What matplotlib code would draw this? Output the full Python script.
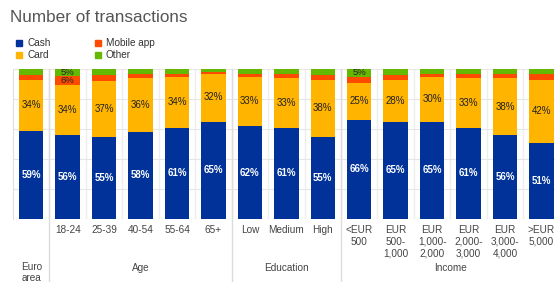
import numpy as np
import matplotlib.pyplot as plt
from matplotlib.patches import Rectangle
from matplotlib.lines import Line2D

plt.rcParams['font.family'] = ['Liberation Sans', 'DejaVu Sans']

# data (percent of transactions)
tick_labels = ["", "18-24", "25-39", "40-54", "55-64", "65+",
               "Low", "Medium", "High",
               "<EUR\n500", "EUR\n500-\n1,000", "EUR\n1,000-\n2,000",
               "EUR\n2,000-\n3,000", "EUR\n3,000-\n4,000", ">EUR\n5,000"]
groups = ["Euro\narea", "Age", "Education", "Income"]
group_sizes = [1, 5, 3, 6]

cash = [59, 56, 55, 58, 61, 65, 62, 61, 55, 66, 65, 65, 61, 56, 51]
card = [34, 33.6, 37, 36, 34, 32, 33, 33, 38, 25, 28, 30, 33, 38, 42]
mobile = [3, 5.6, 4, 3, 2, 1, 2, 3, 3, 4, 3, 2, 3, 3, 4]
other = [4, 4.8, 4, 3, 3, 2, 3, 3, 4, 5, 4, 3, 3, 3, 3]

series = ["Cash", "Card", "Mobile app", "Other"]
colors = ["#003299", "#FFB400", "#FF4B00", "#65B800"]

W, H = 555, 282
fig = plt.figure(figsize=(W / 100, H / 100), dpi=100)
ax = fig.add_axes([13 / W, 63 / H, 1 - 13 / W, 150 / H])

x = np.arange(len(cash))
bw = 0.67
bottom = np.zeros(len(x))
for vals, col in zip([cash, card, mobile, other], colors):
    ax.bar(x, vals, bw, bottom=bottom, color=col, zorder=3, linewidth=0)
    bottom += np.array(vals)

# labels inside bars
for i in x:
    ax.text(i, cash[i] / 2, f"{cash[i]:.0f}%", ha="center", va="center",
            color="white", fontsize=7, fontweight="bold", zorder=4)
    ax.text(i, cash[i] + card[i] / 2, f"{card[i]:.0f}%", ha="center", va="center",
            color="#222222", fontsize=7, zorder=4)
    if mobile[i] >= 4.5:
        ax.text(i, cash[i] + card[i] + mobile[i] / 2, f"{mobile[i]:.0f}%", ha="center",
                va="center", color="#222222", fontsize=6.8, zorder=4)
    if other[i] >= 4.5:
        ax.text(i, cash[i] + card[i] + mobile[i] + other[i] / 2, f"{other[i]:.0f}%",
                ha="center", va="center", color="#222222", fontsize=6.8, zorder=4)

ax.set_xlim(-0.5, (W - 31) / 36.46)
ax.set_ylim(0, 100)
ax.set_yticks([0, 20, 40, 60, 80, 100])
ax.set_xticks([])
ax.tick_params(left=False, labelleft=False)
ax.grid(axis="y", color="#e6e6e6", linewidth=0.8, zorder=0)
for s in ["top", "right", "bottom"]:
    ax.spines[s].set_visible(False)
ax.spines["left"].set_color("#e0e0e0")
ax.spines["left"].set_linewidth(0.8)
ax.axhline(0, color="#dddddd", linewidth=0.8, zorder=2)

# light vertical lines between bars
for m in x[:-1] + 0.5:
    ax.axvline(m, color="#eeeeee", linewidth=1.0, zorder=1)

# tick labels and group labels below the axis
trans = ax.get_xaxis_transform()
for i, lab in enumerate(tick_labels):
    ax.text(i, -0.04, lab, transform=trans, ha="center", va="top",
            fontsize=7.2, color="#444444", linespacing=1.2)

start = 0
for g, n in zip(groups, group_sizes):
    center = start + (n - 1) / 2
    if n == 1:
        ax.text(center, -0.285, g, transform=trans, ha="center", va="top",
                fontsize=7.2, color="#444444", linespacing=1.2)
    else:
        ax.text(center, -0.327, g, transform=trans, ha="center", va="center",
                fontsize=7.2, color="#444444")
    if start > 0:
        ax.add_line(Line2D([start - 0.5, start - 0.5], [1.0, -0.45], transform=trans,
                           color="#dcdcdc", linewidth=1.0, clip_on=False, zorder=2))
    start += n

# title
fig.text(10 / W, 1 - 17 / H, "Number of transactions", fontsize=12.3,
         color="#555555", va="center", ha="left")

# legend
leg_pos = [(16, 43), (16, 55), (95, 43), (95, 55)]
for (px, py), name, col in zip(leg_pos, series, colors):
    fig.add_artist(Rectangle((px / W, 1 - (py + 3) / H), 6 / W, 6 / H,
                             transform=fig.transFigure, color=col))
    fig.text((px + 11) / W, 1 - py / H, name, fontsize=7.2, color="#333333",
             va="center", ha="left")

fig.savefig("out.png", dpi=100)
